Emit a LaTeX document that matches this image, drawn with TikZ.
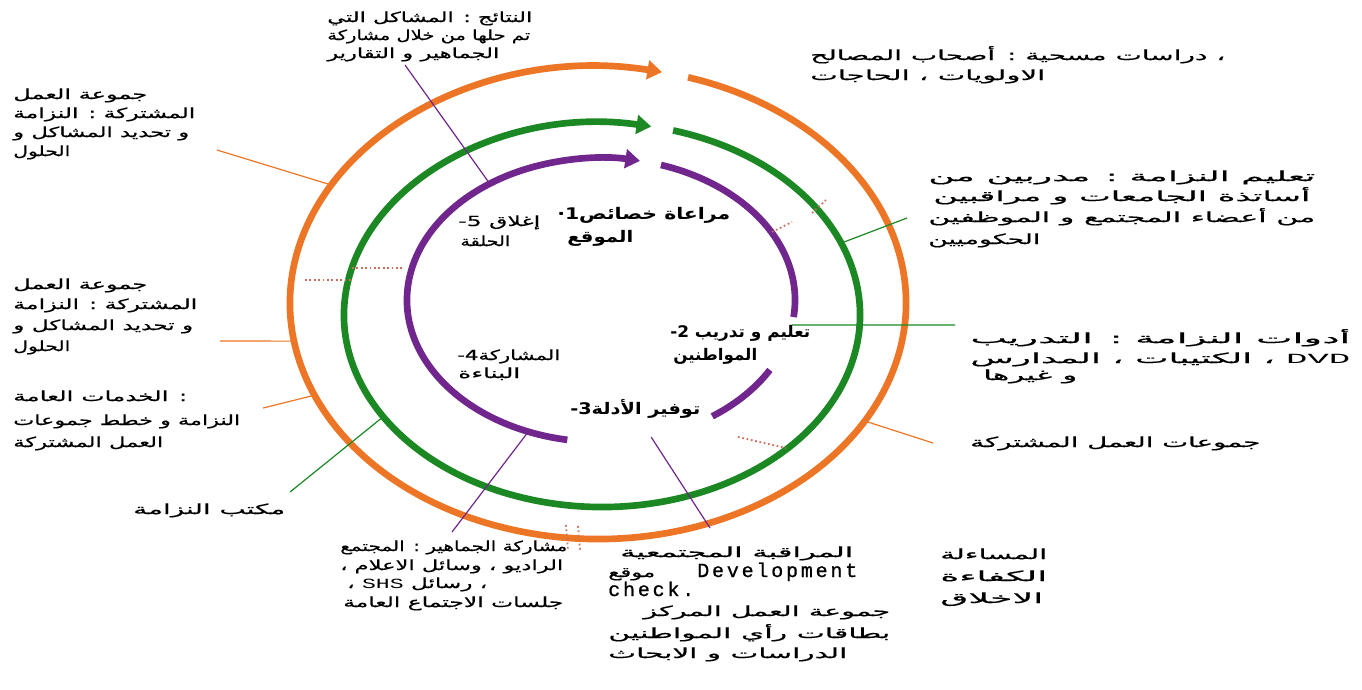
\documentclass[tikz,border=0pt]{standalone}
\usepackage{fontspec}
\usepackage{graphicx}
\usetikzlibrary{arrows.meta,calc}
\TeXXeTstate=1
\newfontfamily\arfont[Script=Arabic,FakeBold=0.4]{DejaVu Sans}
\newfontfamily\arbfont[Script=Arabic]{DejaVu Sans Bold}
\newfontfamily\lmonofont[LetterSpace=14,FakeBold=0.8]{Liberation Mono}
\newfontfamily\lmonoplain{Liberation Mono}
\definecolor{cOr}{RGB}{236,118,38}
\definecolor{cGr}{RGB}{28,136,36}
\definecolor{cPu}{RGB}{112,38,140}
\definecolor{cDot}{RGB}{205,110,90}
\newcommand\fitw[2]{\resizebox{\dimexpr #1pt*3/4\relax}{\height}{#2}}
\tikzset{
  txt/.style={anchor=base west, inner sep=0pt, text=black, font=\arfont\fontsize{10.5}{12}\selectfont},
  btxt/.style={txt, font=\arbfont\fontsize{12}{14}\selectfont},
  mtxt/.style={txt, font=\lmonofont\fontsize{15}{17}\selectfont},
  ring/.style={line width=5pt},
  tipA/.style={-{Triangle[length=11pt,width=14pt]}},
  conOr/.style={cOr, line width=0.9pt},
  conGr/.style={cGr, line width=0.9pt},
  conPu/.style={cPu, line width=0.9pt},
  dotmark/.style={cDot, line width=1.3pt, dotted}
}
\begin{document}
\begin{tikzpicture}[x=0.75pt,y=0.75pt]
\useasboundingbox (0,0) rectangle (1362,-689);
\fill[white] (0,0) rectangle (1362,-689);
% centres
\coordinate (O) at (598,-303);
\coordinate (G) at (602,-315);
\coordinate (P) at (601,-300);
% rings
\draw[ring,cOr,tipA] ($(O)+(73:231pt and 177pt)$) arc[start angle=73,end angle=-282,x radius=231pt,y radius=177pt];
\draw[ring,cGr,tipA] ($(G)+(74:193.5pt and 144pt)$) arc[start angle=74,end angle=-281,x radius=193.5pt,y radius=144pt];
\draw[ring,cPu] ($(P)+(72:145.5pt and 106.5pt)$) arc[start angle=72,end angle=-6.9,x radius=145.5pt,y radius=106.5pt];
\draw[ring,cPu] ($(P)+(-29.5:145.5pt and 106.5pt)$) arc[start angle=-29.5,end angle=-55,x radius=145.5pt,y radius=106.5pt];
\draw[ring,cPu,tipA] ($(P)+(-100:145.5pt and 106.5pt)$) arc[start angle=-100,end angle=-281.6,x radius=145.5pt,y radius=106.5pt];
% ring attachment points
\coordinate (oc1) at ($(O)+(150:231pt and 177pt)$);
\coordinate (oc2) at ($(O)+(189.3:231pt and 177pt)$);
\coordinate (oc3) at ($(O)+(203:231pt and 177pt)$);
\coordinate (oc4) at ($(O)+(-30:231pt and 177pt)$);
\coordinate (gc1) at ($(G)+(22:193.5pt and 144pt)$);
\coordinate (gc3) at ($(G)+(212:193.5pt and 144pt)$);
\coordinate (pc0) at ($(P)+(-10.1:145.5pt and 106.5pt)$);
\coordinate (pc1) at ($(P)+(125:145.5pt and 106.5pt)$);
\coordinate (pc2) at ($(P)+(-112:145.5pt and 106.5pt)$);
\coordinate (pc3) at ($(P)+(-75:145.5pt and 106.5pt)$);
% free ends
\coordinate (ec1) at (217,-150);
\coordinate (ec2) at (220,-341);
\coordinate (ec3) at (263,-408);
\coordinate (ec4) at (933,-443);
\coordinate (eg1) at (907,-218);
\coordinate (eg2) at (955,-325);
\coordinate (eg3) at (290,-492);
\coordinate (ep1) at (405,-65);
\coordinate (ep2) at (452,-532);
\coordinate (ep3) at (710,-528);
% connectors
\draw[conOr] (ec1) -- (oc1);
\draw[conOr] (ec2) -- (oc2);
\draw[conOr] (ec3) -- (oc3);
\draw[conOr] (ec4) -- (oc4);
\draw[conGr] (eg1) -- (gc1);
\draw[conGr] (pc0) -- (eg2);
\draw[conGr] (eg3) -- (gc3);
\draw[conPu] (ep1) -- (pc1);
\draw[conPu] (ep2) -- (pc2);
\draw[conPu] (ep3) -- (pc3);
% dotted remnants
\draw[dotmark] (772,-232) -- (792,-222);
\draw[dotmark] (812,-213) -- (826,-200);
\draw[dotmark] (305,-280) -- (352,-280);
\draw[dotmark] (352,-268) -- (402,-268);
\draw[dotmark] (738,-437) -- (786,-448);
\draw[dotmark] (566,-525) -- (568,-550);
\draw[dotmark] (578,-526) -- (580,-550);
% centre labels
\node[btxt] (l1a) at (557,-219) {\fitw{173}{\beginR مراعاة خصائص\mbox{1·}\endR}};
\node[btxt] (l1b) at (567,-242) {\fitw{66}{\beginR الموقع\endR}};
\node[btxt] (l2a) at (670,-337) {\fitw{140}{\beginR تعليم و تدريب \mbox{2-}\endR}};
\node[btxt] (l2b) at (673,-360) {\fitw{84}{\beginR المواطنين\endR}};
\node[btxt] (l3) at (570,-414) {\fitw{130}{\beginR توفير الأدلة\mbox{3-}\endR}};
\node[txt] (l4a) at (457,-360) {\fitw{103}{\beginR المشاركة\mbox{4-}\endR}};
\node[txt] (l4b) at (458,-378) {\fitw{62}{\beginR البناءة\endR}};
\node[txt] (l5a) at (458,-226) {\fitw{82}{\beginR إغلاق \mbox{5-}\endR}};
\node[txt] (l5b) at (460,-246) {\fitw{50}{\beginR الحلقة\endR}};
% block A
\node[txt] (a1) at (327,-22) {\fitw{205}{\beginR النتائج : المشاكل التي\endR}};
\node[txt] (a2) at (327,-40) {\fitw{203}{\beginR تم حلها من خلال مشاركة\endR}};
\node[txt] (a3) at (327,-58) {\fitw{172}{\beginR الجماهير و التقارير\endR}};
% block B
\node[txt] (b1) at (810,-60) {\fitw{415}{\beginR ، دراسات مسحية : أصحاب المصالح\endR}};
\node[txt] (b2) at (810,-80) {\fitw{235}{\beginR الاولويات ، الحاجات\endR}};
% block C
\node[txt] (c1) at (13,-99) {\fitw{134}{\beginR جموعة العمل\endR}};
\node[txt] (c2) at (13,-118) {\fitw{182}{\beginR المشتركة : النزامة\endR}};
\node[txt] (c3) at (13,-137) {\fitw{176}{\beginR و تحديد المشاكل و\endR}};
\node[txt] (c4) at (13,-156) {\fitw{57}{\beginR الحلول\endR}};
% block D
\node[txt] (d1) at (13,-289) {\fitw{134}{\beginR جموعة العمل\endR}};
\node[txt] (d2) at (13,-309) {\fitw{184}{\beginR المشتركة : النزامة\endR}};
\node[txt] (d3) at (13,-330) {\fitw{180}{\beginR و تحديد المشاكل و\endR}};
\node[txt] (d4) at (13,-351) {\fitw{57}{\beginR الحلول\endR}};
% block E
\node[txt] (e1) at (13,-401) {\fitw{174}{\beginR : الخدمات العامة\endR}};
\node[txt] (e2) at (13,-425) {\fitw{227}{\beginR النزامة و خطط جموعات\endR}};
\node[txt] (e3) at (13,-447) {\fitw{150}{\beginR العمل المشتركة\endR}};
% block F
\node[txt] (f1) at (133,-514) {\fitw{152}{\beginR مكتب النزامة\endR}};
% block G
\node[txt] (g1) at (340,-551) {\fitw{227}{\beginR مشاركة الجماهير : المجتمع\endR}};
\node[txt] (g2) at (340,-570) {\fitw{223}{\beginR الراديو ، وسائل الاعلام ،\endR}};
\node[txt] (g3) at (347,-588) {\fitw{140}{\beginR ، رسائل \mbox{\lmonoplain SHS} ،\endR}};
\node[txt] (g4) at (343,-607) {\fitw{220}{\beginR جلسات الاجتماع العامة\endR}};
% block H
\node[txt] (h1) at (620,-557) {\fitw{233}{\beginR المراقبة المجتمعية\endR}};
\node[txt] (h2a) at (608,-577) {\fitw{47}{\beginR موقع\endR}};
\node[mtxt] (h2b) at (697,-577) {Development};
\node[mtxt] (h3) at (608,-596) {check.};
\node[txt] (h4) at (643,-616) {\fitw{247}{\beginR جموعة العمل المركز\endR}};
\node[txt] (h5) at (608,-638) {\fitw{282}{\beginR بطاقات رأي المواطنين\endR}};
\node[txt] (h6) at (608,-658) {\fitw{239}{\beginR الدراسات و الابحاث\endR}};
% block I
\node[txt] (i1) at (940,-559) {\fitw{107}{\beginR المساءلة\endR}};
\node[txt] (i2) at (940,-581) {\fitw{107}{\beginR الكفاءة\endR}};
\node[txt] (i3) at (940,-603) {\fitw{103}{\beginR الاخلاق\endR}};
% block J
\node[txt] (j1) at (928,-181) {\fitw{387}{\beginR تعليم النزامة : مدربين من\endR}};
\node[txt] (j2) at (933,-201) {\fitw{377}{\beginR أساتذة الجامعات و مراقبين\endR}};
\node[txt] (j3) at (928,-222) {\fitw{387}{\beginR من أعضاء المجتمع و الموظفين\endR}};
\node[txt] (j4) at (928,-244) {\fitw{112}{\beginR الحكوميين\endR}};
% block K
\node[txt] (k1) at (970,-343) {\fitw{380}{\beginR أدوات النزامة : التدريب\endR}};
\node[txt] (k2) at (970,-363) {\fitw{380}{\beginR \mbox{\lmonoplain DVD} ، الكتيبات ، المدارس\endR}};
\node[txt] (k3) at (983,-380) {\fitw{94}{\beginR و غيرها\endR}};
% block L
\node[txt] (lw) at (970,-447) {\fitw{290}{\beginR جموعات العمل المشتركة\endR}};
\end{tikzpicture}
\end{document}
